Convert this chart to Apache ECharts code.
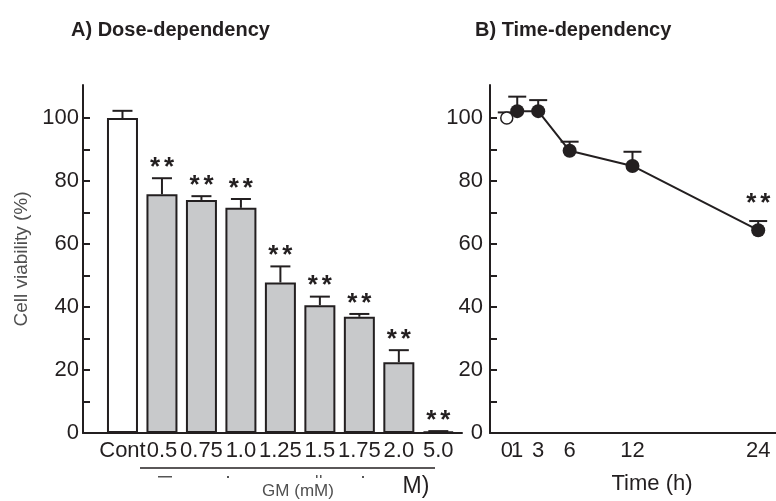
<!DOCTYPE html>
<html>
<head>
<meta charset="utf-8">
<script src="https://cdn.jsdelivr.net/npm/echarts@6/dist/echarts.min.js"></script>
<style>
  html, body { margin: 0; padding: 0; background: #fff; }
  #chart { width: 776px; height: 501px; }
</style>
</head>
<body>
<div id="chart"></div>
<script>
// dose panel
var doseLabels = ['Cont', '0.5', '0.75', '1.0', '1.25', '1.5', '1.75', '2.0', '5.0'];
var doseMeans  = [100, 75.8, 74.0, 71.5, 47.8, 40.6, 36.9, 22.5, 0.4];
var doseUpper  = [102.3, 80.9, 75.2, 74.3, 52.9, 43.3, 37.8, 26.3, 0.6];
var doseStars  = [false, true, true, true, true, true, true, true, true];

// time panel
var timeHours  = [0, 1, 3, 6, 12, 24];
var timeMeans  = [100, 102.2, 102.2, 89.6, 84.8, 64.4];
var timeUpper  = [101.8, 106.8, 105.7, 92.5, 89.3, 67.3];
var timeStars  = [false, false, false, false, false, true];
var timeTicks  = [0, 1, 3, 6, 12, 24];

// y axis
var yTicks  = [0, 10, 20, 30, 40, 50, 60, 70, 80, 90, 100];
var yLabels = [0, 20, 40, 60, 80, 100];

var ink = '#231f20';
var font = 'Liberation Sans, Arial, sans-serif';

var chart = echarts.init(document.getElementById('chart'));

// error bar + asterisks, drawn through the axis scales
function errRenderer(capW, starGap) {
    return function (params, api) {
        var base = api.coord([api.value(0), api.value(1)]);
        var top = api.coord([api.value(0), api.value(2)]);
        var kids = [
            { type: 'line', shape: { x1: base[0], y1: base[1], x2: top[0], y2: top[1] },
              style: { stroke: ink, lineWidth: 2 } },
            { type: 'line', shape: { x1: top[0] - capW / 2, y1: top[1], x2: top[0] + capW / 2, y2: top[1] },
              style: { stroke: ink, lineWidth: 2 } }
        ];
        if (api.value(3)) {
            [-7, 7].forEach(function (dx) {
                kids.push({ type: 'text', x: top[0] + dx, y: top[1] - starGap + 4.5,
                    style: { text: '*', fill: ink, font: 'bold 26px ' + font, align: 'center', verticalAlign: 'middle' } });
            });
        }
        return { type: 'group', children: kids };
    };
}

var yCommon = {
    type: 'value', min: 0, max: 110.5,
    axisLine: { show: true, onZero: false, lineStyle: { color: ink, width: 2 } },
    axisTick: { show: true, inside: true, length: 7, customValues: yTicks, lineStyle: { color: ink, width: 2 } },
    splitLine: { show: false },
    axisLabel: { color: ink, fontSize: 22, fontFamily: font, customValues: yLabels }
};

// time axis labels: the tight 0/1/3 cluster is split over two stacked axes so none is dropped
function timeAxis(values, showLine) {
    return {
        gridIndex: 1, type: 'value', min: -1.6, max: 25.7, position: 'bottom', offset: 0,
        axisLine: { show: showLine, onZero: false, lineStyle: { color: ink, width: 2 } },
        axisTick: { show: false }, splitLine: { show: false },
        axisLabel: {
            color: ink, fontSize: 22, fontFamily: font, margin: 7,
            showMinLabel: true, showMaxLabel: true, customValues: values
        }
    };
}

var option = {
    backgroundColor: '#fff',
    animation: false,
    title: [
        { text: 'A) Dose-dependency', left: 66, top: 15,
          textStyle: { fontSize: 20, fontWeight: 'bold', color: ink, fontFamily: font } },
        { text: 'B) Time-dependency', left: 470, top: 15,
          textStyle: { fontSize: 20, fontWeight: 'bold', color: ink, fontFamily: font } }
    ],
    grid: [
        { left: 83, top: 85, width: 379, height: 348 },
        { left: 490, top: 85, right: 0, height: 348 }
    ],
    xAxis: [
        {
            gridIndex: 0, type: 'value', min: -1, max: 8.6, interval: 1,
            axisLine: { show: true, onZero: false, lineStyle: { color: ink, width: 2 } },
            axisTick: { show: false }, splitLine: { show: false },
            axisLabel: {
                color: ink, fontSize: 22, fontFamily: font, margin: 7,
                formatter: function (v) { return doseLabels[v] !== undefined ? doseLabels[v] : ''; }
            }
        },
        timeAxis(timeTicks.filter(function (v) { return v !== 1; }), true),
        timeAxis(timeTicks.filter(function (v) { return v === 1; }), false)
    ],
    yAxis: [
        Object.assign({}, yCommon, {
            gridIndex: 0,
            name: 'Cell viability (%)', nameLocation: 'middle', nameRotate: 90, nameGap: 52,
            nameTextStyle: { color: '#505050', fontSize: 19, fontFamily: font },
            axisLabel: Object.assign({}, yCommon.axisLabel, { margin: 4 })
        }),
        Object.assign({}, yCommon, {
            gridIndex: 1,
            axisLabel: Object.assign({}, yCommon.axisLabel, { margin: 7 })
        })
    ],
    series: [
        {
            type: 'bar', xAxisIndex: 0, yAxisIndex: 0, barWidth: 31,
            data: doseMeans.map(function (v, i) {
                return { value: [i, v], itemStyle: { color: i === 0 ? '#ffffff' : '#c8c9cb' } };
            }),
            itemStyle: { borderColor: ink, borderWidth: 2 }
        },
        {
            type: 'custom', xAxisIndex: 0, yAxisIndex: 0, z: 5,
            renderItem: errRenderer(20, 15),
            data: doseMeans.map(function (v, i) { return [i, v, doseUpper[i], doseStars[i] ? 1 : 0]; })
        },
        {
            type: 'custom', xAxisIndex: 1, yAxisIndex: 1, z: 1,
            renderItem: errRenderer(18, 22),
            data: timeHours.map(function (t, i) { return [t, timeMeans[i], timeUpper[i], timeStars[i] ? 1 : 0]; })
        },
        {
            type: 'line', xAxisIndex: 1, yAxisIndex: 1, z: 3,
            symbol: 'circle', symbolSize: 14,
            lineStyle: { color: ink, width: 2 },
            itemStyle: { color: ink },
            data: timeHours.map(function (t, i) {
                var d = { value: [t, timeMeans[i]] };
                if (i === 0) {
                    d.symbolSize = 12;
                    d.itemStyle = { color: '#fff', borderColor: ink, borderWidth: 1.5 };
                }
                return d;
            })
        }
    ],
    graphic: [
        { type: 'line', shape: { x1: 140, y1: 468, x2: 435, y2: 468 }, style: { stroke: ink, lineWidth: 1.5 } },
        { type: 'rect', shape: { x: 158, y: 476, width: 14, height: 1.5 }, style: { fill: '#555' } },
        { type: 'rect', shape: { x: 227, y: 476, width: 2, height: 2 }, style: { fill: '#555' } },
        { type: 'rect', shape: { x: 316, y: 475, width: 1.5, height: 3 }, style: { fill: '#555' } },
        { type: 'rect', shape: { x: 320, y: 475, width: 1.5, height: 3 }, style: { fill: '#555' } },
        { type: 'rect', shape: { x: 362, y: 476, width: 2, height: 2 }, style: { fill: '#555' } },
        { type: 'text', x: 298, y: 491, style: { text: 'GM (mM)', fill: '#505050', font: '17px ' + font, align: 'center', verticalAlign: 'middle' } },
        { type: 'text', x: 416, y: 487, style: { text: 'M)', fill: ink, font: '23px ' + font, align: 'center', verticalAlign: 'middle' } },
        { type: 'text', x: 652, y: 484, style: { text: 'Time (h)', fill: ink, font: '22px ' + font, align: 'center', verticalAlign: 'middle' } }
    ]
};

chart.setOption(option);
</script>
</body>
</html>
